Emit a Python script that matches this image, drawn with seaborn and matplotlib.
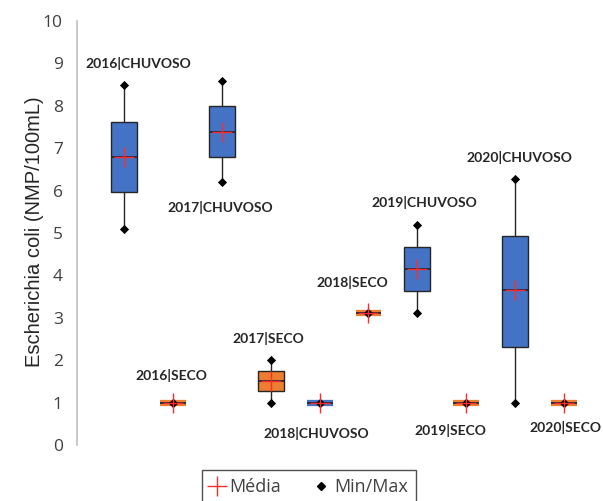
import numpy as np
import pandas as pd
import matplotlib
matplotlib.use("Agg")
import matplotlib.pyplot as plt
import seaborn as sns
from matplotlib.lines import Line2D

# ---- data ----
categories = ["2016|CHUVOSO", "2016|SECO", "2017|CHUVOSO", "2017|SECO",
              "2018|CHUVOSO", "2018|SECO", "2019|CHUVOSO", "2019|SECO",
              "2020|CHUVOSO", "2020|SECO"]
seasons = ["CHUVOSO", "SECO"] * 5
mins    = [5.1, 1.0, 6.2, 1.0, 1.0, 3.1, 3.1, 1.0, 1.0, 1.0]
q1s     = [5.96, 1.0, 6.8, 1.26, 1.0, 3.1, 3.63, 1.0, 2.31, 1.0]
medians = [6.8, 1.0, 7.39, 1.51, 1.0, 3.1, 4.14, 1.0, 3.65, 1.0]
q3s     = [7.62, 1.0, 8.0, 1.75, 1.0, 3.1, 4.68, 1.0, 4.94, 1.0]
maxs    = [8.49, 1.0, 8.59, 2.0, 1.0, 3.1, 5.19, 1.0, 6.28, 1.0]
means   = [6.8, 1.0, 7.39, 1.51, 1.0, 3.1, 4.14, 1.0, 3.65, 1.0]

# label offsets (in category units / data units) relative to each box
label_dx = [0.28, -0.04, -0.04, -0.04, -0.06, -0.34, 0.14, -0.33, 0.08, 0.04]
label_y  = [8.99, 1.63, 5.61, 2.52, 0.28, 3.82, 5.73, 0.33, 6.79, 0.40]

palette = {"CHUVOSO": "#4472C4", "SECO": "#ED7D31"}

# long table: five-number summaries -> quartiles reproduced exactly by linear percentiles
rows = []
for c, s, a, b, m, d, e in zip(categories, seasons, mins, q1s, medians, q3s, maxs):
    for v in (a, b, m, d, e):
        rows.append({"cat": c, "season": s, "val": v})
df = pd.DataFrame(rows)

sns.set_theme(style="white")
plt.rcParams["font.family"] = ["Lato", "DejaVu Sans"]

fig = plt.figure(figsize=(6.03, 5.01), dpi=100)
ax = fig.add_axes([0.127, 0.112, 0.868, 0.846])

sns.boxplot(data=df, x="cat", y="val", hue="season", order=categories,
            palette=palette, saturation=1, dodge=False, width=0.53, whis=(0, 100),
            showcaps=False, fliersize=0, linewidth=1.0, linecolor="#262626",
            medianprops={"color": "#23263a", "linewidth": 1.3},
            legend=False, ax=ax)

# flat (zero-height) boxes: draw thick band in fill colour
for p in ax.patches:
    ext = p.get_path().get_extents()
    if ext.height < 1e-6:
        p.set_edgecolor(p.get_facecolor())
        p.set_linewidth(4.5)
for ln in ax.lines:
    yd = np.asarray(ln.get_ydata(), dtype=float)
    xd = np.asarray(ln.get_xdata(), dtype=float)
    if len(yd) == 2 and yd[0] == yd[1] and xd[0] != xd[1]:
        ln.set_zorder(4)

pos = np.arange(len(categories))
ax.scatter(pos, mins, marker="D", s=22, color="black", zorder=6, linewidths=0)
ax.scatter(pos, maxs, marker="D", s=22, color="black", zorder=6, linewidths=0)
ax.scatter(pos, means, marker="+", s=210, color="#FF2B2B", linewidths=1.0, zorder=7)

for i, c in enumerate(categories):
    ax.text(pos[i] + label_dx[i], label_y[i], c, ha="center", va="center",
            fontsize=10, fontweight="bold", color="#262626")

ax.set_xlim(-0.975, 9.74)
ax.set_ylim(0, 10)
ax.set_yticks(range(0, 11))
ax.set_xticks([])
ax.set_xlabel("")
ax.set_ylabel("Escherichia coli (NMP/100mL)", fontsize=14.5, color="#262626",
              family=["Liberation Sans", "DejaVu Sans"])
ax.yaxis.set_label_coords(-0.0618, 0.502)
for s in ["top", "right", "bottom"]:
    ax.spines[s].set_visible(False)
ax.spines["left"].set_color("#BFBFBF")
ax.spines["left"].set_linewidth(1.2)
ax.tick_params(axis="y", direction="inout", length=12, width=1.2, color="#BFBFBF",
               labelsize=12.5, labelcolor="#404040", pad=4)
for t in ax.get_yticklabels():
    t.set_family(["Open Sans", "DejaVu Sans"])

handles = [Line2D([], [], marker="+", color="#FF2B2B", linestyle="none",
                  markersize=14, markeredgewidth=1.0, label="Média"),
           Line2D([], [], marker="D", color="black", linestyle="none",
                  markersize=4, label="Min/Max")]
leg = fig.legend(handles=handles, loc="upper center", bbox_to_anchor=(0.512, 0.062),
                 ncol=2, frameon=True, fancybox=False,
                 handlelength=0.8, handletextpad=0.3, columnspacing=1.8,
                 borderpad=0.45, borderaxespad=0, edgecolor="#262626",
                 prop={"family": ["Open Sans", "DejaVu Sans"], "size": 13})
leg.get_frame().set_linewidth(1.0)
for t in leg.get_texts():
    t.set_color("#404040")

fig.savefig("out.png", dpi=100)
